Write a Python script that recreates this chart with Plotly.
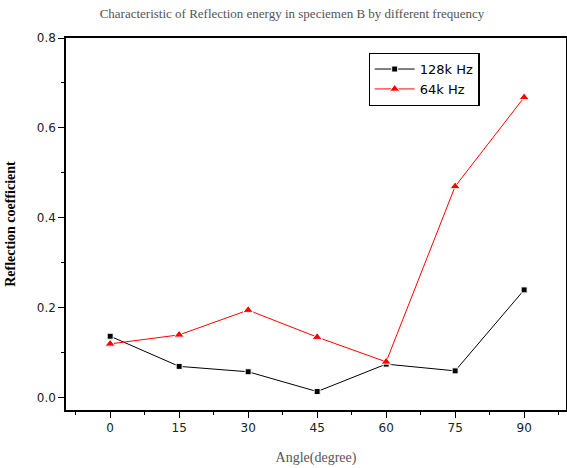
import plotly.graph_objects as go

angles = [0, 15, 30, 45, 60, 75, 90]
r128 = [0.137, 0.070, 0.058, 0.014, 0.075, 0.060, 0.240]
r64 = [0.120, 0.140, 0.195, 0.135, 0.080, 0.470, 0.668]
xticks = [0, 15, 30, 45, 60, 75, 90]
yticks = [0.0, 0.2, 0.4, 0.6, 0.8]
ytick_labels = ["0.0", "0.2", "0.4", "0.6", "0.8"]

fig = go.Figure()
fig.add_trace(go.Scatter(x=angles, y=r128, mode="lines+markers", name="128k Hz",
                         line=dict(color="black", width=1),
                         marker=dict(symbol="square", size=6, color="black",
                                     line=dict(color="white", width=1))))
fig.add_trace(go.Scatter(x=angles, y=r64, mode="lines+markers", name="64k Hz",
                         line=dict(color="red", width=1),
                         marker=dict(symbol="triangle-up", size=9, color="red",
                                     line=dict(color="white", width=1))))

axis_font = dict(family="DejaVu Sans", size=12, color="#222222")
fig.update_layout(
    width=567, height=468,
    margin=dict(l=66, r=1, t=38, b=58),
    paper_bgcolor="white", plot_bgcolor="white",
    title=dict(text="Characteristic of Reflection energy in speciemen B by different frequency",
               x=0.515, xanchor="center", y=0.982, yanchor="top",
               font=dict(family="Liberation Serif", size=13, color="#555555")),
    xaxis=dict(range=[-9.6, 99.1], tickvals=xticks, ticktext=[str(v) for v in xticks],
               automargin=False,
               showline=True, linecolor="black", linewidth=1.5, mirror=True,
               ticks="outside", ticklen=6, tickwidth=1.2, tickcolor="black",
               minor=dict(dtick=7.5, tick0=0, ticks="outside", ticklen=3, tickcolor="black", tickwidth=1),
               showgrid=False, zeroline=False, tickfont=axis_font,
               title=dict(text="Angle(degree)", standoff=18,
                          font=dict(family="Liberation Serif", size=14, color="#555555"))),
    yaxis=dict(range=[-0.027, 0.8], tickvals=yticks, ticktext=ytick_labels,
               automargin=False,
               showline=True, linecolor="black", linewidth=1.5, mirror=True,
               ticks="outside", ticklen=6, tickwidth=1.2, tickcolor="black",
               minor=dict(dtick=0.1, tick0=0, ticks="outside", ticklen=3, tickcolor="black", tickwidth=1),
               showgrid=False, zeroline=False, tickfont=axis_font,
               title=dict(text="<b>Reflection coefficient</b>", standoff=18,
                          font=dict(family="Liberation Serif", size=14, color="black"))),
    legend=dict(x=0.605, y=0.96, xanchor="left", yanchor="top",
                bordercolor="black", borderwidth=1.2, bgcolor="white",
                font=dict(family="DejaVu Sans", size=13, color="black"),
                tracegroupgap=0, itemwidth=40),
    showlegend=True,
)

fig.write_html("out.html", config={"displayModeBar": False},
               post_script="document.body.style.margin='0';")
